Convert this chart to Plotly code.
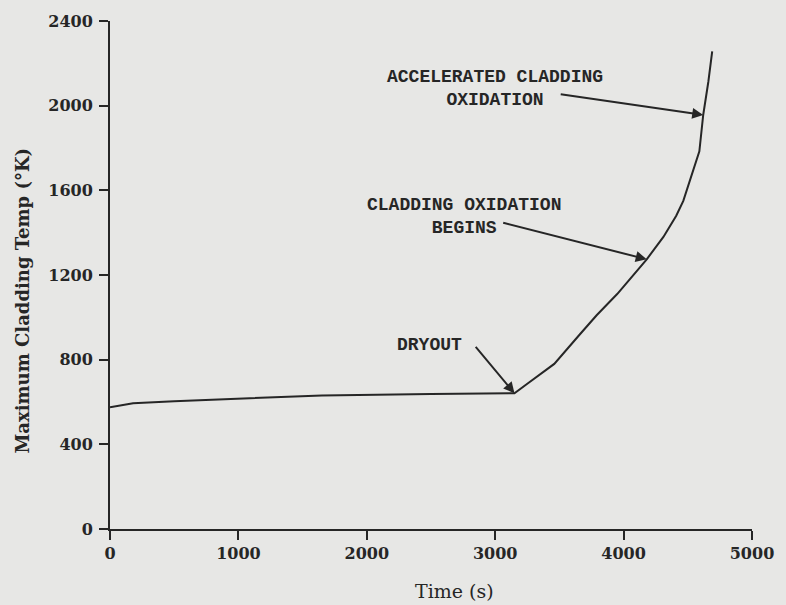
import plotly.graph_objects as go

# Maximum cladding temperature history
time_s = [0, 180, 500, 880, 1650, 2500, 3150, 3250, 3460, 3660, 3790, 3950,
          4100, 4180, 4310, 4410, 4465, 4515, 4590, 4620, 4660, 4690]
temp_k = [575, 594, 604, 612, 631, 638, 641, 686, 780, 920, 1010, 1110,
          1215, 1274, 1380, 1480, 1550, 1640, 1784, 1956, 2113, 2257]

x_ticks = [0, 1000, 2000, 3000, 4000, 5000]
y_ticks = [0, 400, 800, 1200, 1600, 2000, 2400]

# Event markers: (time, temperature) where each arrow points
dryout = (3150, 641)
oxidation_begins = (4180, 1274)
oxidation_accel = (4620, 1956)

INK = "#262626"
PAPER = "#e7e7e5"
LABEL_FONT = dict(family="Liberation Mono", size=18, color=INK, weight="bold")

fig = go.Figure()
fig.add_trace(go.Scatter(x=time_s, y=temp_k, mode="lines",
                         line=dict(color=INK, width=2), hoverinfo="skip"))

axis_common = dict(showline=True, linecolor=INK, linewidth=2, ticks="outside",
                   ticklen=9, tickwidth=2, tickcolor=INK, showgrid=False,
                   zeroline=False,
                   tickfont=dict(family="DejaVu Serif", size=16, color=INK, weight="bold"))

fig.update_xaxes(range=[0, 5000], tickvals=x_ticks,
                 ticktext=[str(v) for v in x_ticks], **axis_common)
fig.update_yaxes(range=[0, 2400], tickvals=y_ticks, ticklabelstandoff=3,
                 ticktext=[str(v) for v in y_ticks], **axis_common)

annotations = [
    # axis titles
    dict(x=0.537, y=-0.122, xref="paper", yref="paper", text="Time (s)",
         showarrow=False, xanchor="center", yanchor="middle",
         font=dict(family="DejaVu Serif", size=19, color=INK)),
    dict(x=-0.136, y=0.449, xref="paper", yref="paper",
         text="Maximum Cladding Temp (°K)", textangle=-90,
         showarrow=False, xanchor="center", yanchor="middle",
         font=dict(family="DejaVu Serif", size=18, color=INK, weight="bold")),
]

# Arrows from each label to its event on the curve
for (tx, ty), (ax, ay) in [(dryout, (-40, -48)),
                           (oxidation_begins, (-145, -37)),
                           (oxidation_accel, (-144, -21))]:
    annotations.append(dict(x=tx, y=ty, xref="x", yref="y", text="",
                            showarrow=True, ax=ax, ay=ay, arrowhead=2,
                            arrowsize=1.1, arrowwidth=2, arrowcolor=INK))

# Event labels
for text, lx, ly in [("DRYOUT", 2492, 871),
                     ("CLADDING OXIDATION<br>BEGINS", 2755, 1478),
                     ("ACCELERATED CLADDING<br>OXIDATION", 2999, 2081)]:
    annotations.append(dict(x=lx, y=ly, xref="x", yref="y", text=text,
                            showarrow=False, xanchor="center", yanchor="middle",
                            align="center", font=LABEL_FONT))

fig.update_layout(width=786, height=605,
                  margin=dict(l=110, r=30, t=19, b=76),
                  paper_bgcolor=PAPER, plot_bgcolor=PAPER,
                  showlegend=False, annotations=annotations)

fig.write_html("out.html")
